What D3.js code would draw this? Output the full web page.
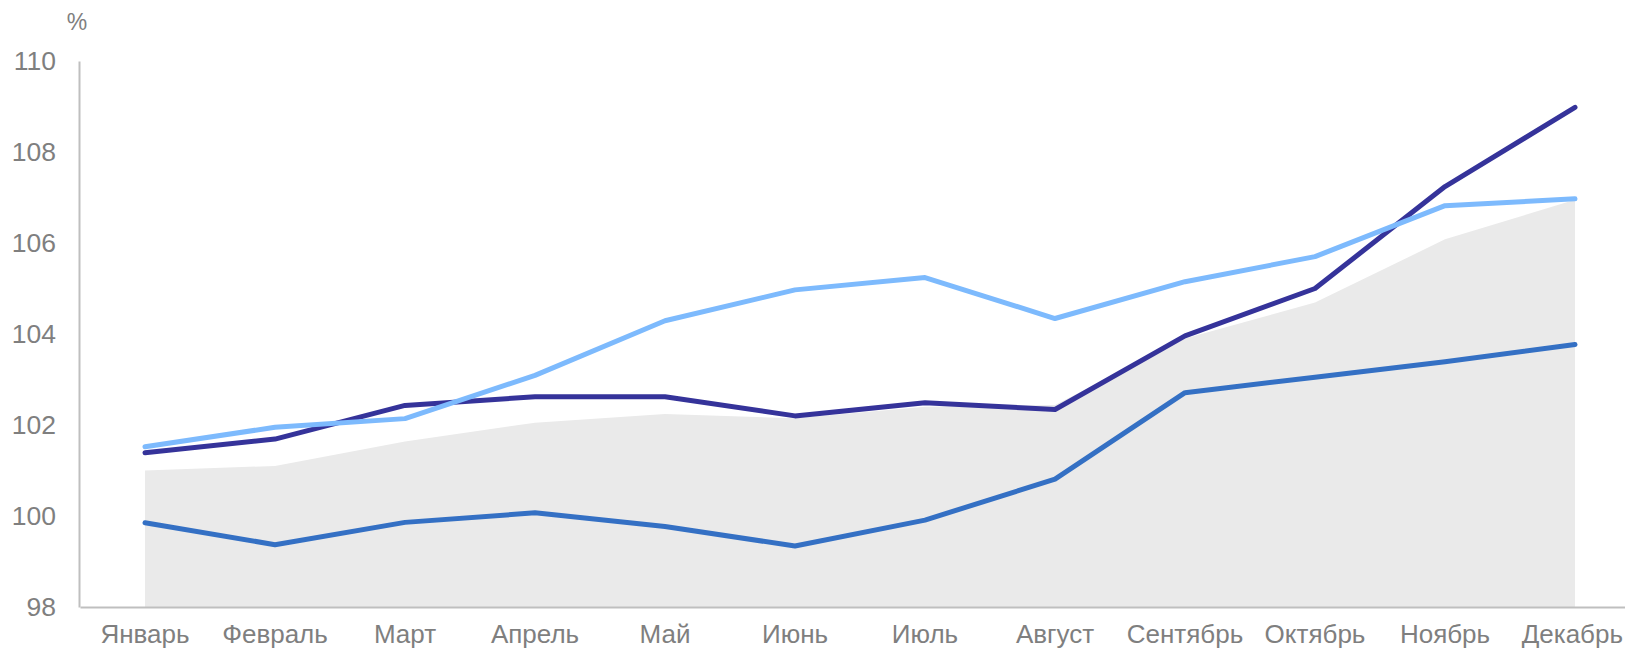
<!DOCTYPE html>
<html>
<head>
<meta charset="utf-8">
<script src="https://cdn.jsdelivr.net/npm/d3@7"></script>
<style>
  body { margin: 0; background: #fff; }
  svg text { font-family: "Liberation Sans", Arial, sans-serif; fill: #7f7f7f; }
</style>
</head>
<body>
<svg id="chart" width="1625" height="655"></svg>
<script>
// months on the x axis
var months = ["Январь", "Февраль", "Март", "Апрель", "Май", "Июнь",
              "Июль", "Август", "Сентябрь", "Октябрь", "Ноябрь", "Декабрь"]
var yTicks = [98, 100, 102, 104, 106, 108, 110]

// grey band
var areaVals = [101.0, 101.1, 101.64, 102.05, 102.24, 102.15, 102.4, 102.44, 103.9, 104.69, 106.08, 106.95]
// mid blue line
var blueVals = [99.85, 99.37, 99.86, 100.07, 99.77, 99.34, 99.91, 100.81, 102.71, 103.05, 103.39, 103.77]
// dark navy line
var navyVals = [101.39, 101.69, 102.43, 102.62, 102.62, 102.2, 102.49, 102.34, 103.96, 105.0, 107.24, 108.98]
// light blue line
var lightVals = [101.52, 101.95, 102.14, 103.09, 104.29, 104.97, 105.24, 104.34, 105.15, 105.70, 106.82, 106.97]

var svg = d3.select("#chart")

var x = d3.scaleBand().domain(months).range([80, 1640]).padding(0)
var y = d3.scaleLinear().domain([98, 110]).range([607, 61])
var cx = function(d, i) { return x(months[i]) + x.bandwidth() / 2 }

// grey area
var area = d3.area()
  .x(cx)
  .y0(y(98))
  .y1(function(d) { return y(d) })
svg.append("path")
  .datum(areaVals)
  .attr("d", area)
  .attr("fill", "#eaeaea")

// axes
var yAxis = svg.append("g")
  .attr("transform", "translate(79,0)")
  .call(d3.axisLeft(y).tickValues(yTicks).tickSize(0).tickPadding(23))
yAxis.select(".domain").attr("stroke", "#bfbfbf").attr("stroke-width", 2)
yAxis.selectAll("text").style("font-size", "26.5px").attr("fill", "#7f7f7f")

var xAxis = svg.append("g")
  .attr("transform", "translate(0,607)")
  .call(d3.axisBottom(x).tickSize(0).tickPadding(18))
xAxis.select(".domain").attr("stroke", "#bfbfbf").attr("stroke-width", 2)
xAxis.selectAll("text").style("font-size", "26px").attr("fill", "#7f7f7f")
// keep the last label inside the page
xAxis.selectAll(".tick").filter(function(d) { return d === "Декабрь" })
  .select("text").attr("text-anchor", "end").attr("x", 48)

// lines
var line = d3.line()
  .x(cx)
  .y(function(d) { return y(d) })

function drawLine(vals, color) {
  svg.append("path")
    .datum(vals)
    .attr("d", line)
    .attr("fill", "none")
    .attr("stroke", color)
    .attr("stroke-width", 5)
    .attr("stroke-linecap", "round")
    .attr("stroke-linejoin", "round")
}
drawLine(blueVals, "#3470c4")
drawLine(navyVals, "#35339a")
drawLine(lightVals, "#7dbafd")

// unit label
svg.append("text")
  .attr("x", 77)
  .attr("y", 30)
  .attr("text-anchor", "middle")
  .style("font-size", "23px")
  .text("%")
</script>
</body>
</html>
